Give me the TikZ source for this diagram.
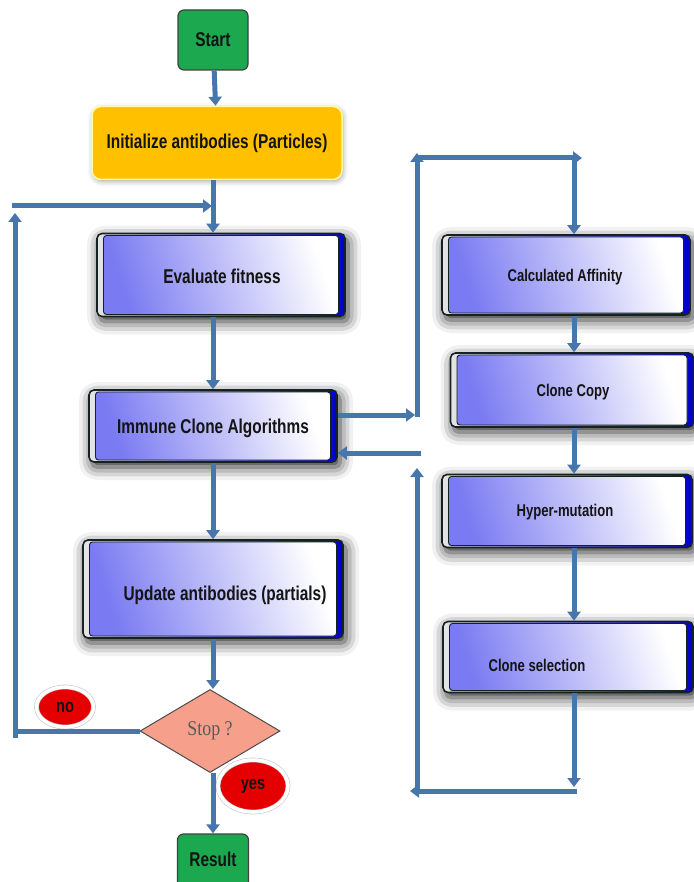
\documentclass[tikz,border=0pt]{standalone}
\usepackage{fontspec}
\setmainfont{Liberation Sans}
\newfontfamily\narrowfont[FakeStretch=0.77]{Liberation Sans}
\newfontfamily\stopfont[FakeStretch=0.85]{Liberation Serif}
\usetikzlibrary{arrows.meta,shapes.geometric,shadows.blur}

\definecolor{flowblue}{RGB}{70,118,172}
\definecolor{boxviolet}{RGB}{122,122,242}
\definecolor{boxedge}{RGB}{22,34,34}
\definecolor{termgreen}{RGB}{28,168,78}
\definecolor{initgold}{RGB}{255,192,0}
\definecolor{stopsalmon}{RGB}{246,160,140}
\definecolor{tagred}{RGB}{228,0,0}

\tikzset{
  flow/.style={draw=flowblue, line width=5pt, -{Triangle[width=13pt,length=9pt]}},
  plainflow/.style={draw=flowblue, line width=5pt},
  bevel/.style={rectangle, rounded corners=5pt, draw=boxedge, line width=1.6pt,
    inner sep=0pt, left color=white!80!gray, right color=blue!80!black,
    blur shadow={shadow xshift=3pt, shadow yshift=-5pt, shadow blur radius=13pt,
      shadow blur extra rounding=4pt, shadow opacity=85}},
  face/.style={rectangle, rounded corners=3pt, draw=boxedge, line width=0.9pt,
    inner sep=0pt, left color=boxviolet, right color=white, shading angle=108},
  boxtext/.style={font=\narrowfont\bfseries\fontsize{20}{24}\selectfont, text=black!92, inner sep=0pt},
  smalltext/.style={font=\narrowfont\bfseries\fontsize{17}{20}\selectfont, text=black!92, inner sep=0pt},
  term/.style={rectangle, rounded corners=6pt, fill=termgreen, draw=black!75, line width=1.2pt,
    inner sep=0pt, font=\narrowfont\bfseries\fontsize{20}{24}\selectfont, text=black!92},
  initbox/.style={rectangle, rounded corners=9pt, fill=initgold, draw=yellow!35!white, line width=1.5pt,
    inner sep=0pt, font=\narrowfont\bfseries\fontsize{20}{24}\selectfont, text=black!92,
    blur shadow={shadow xshift=1pt, shadow yshift=-2pt, shadow blur radius=5pt, shadow opacity=35}},
  decision/.style={diamond, fill=stopsalmon, draw=black!70, line width=1pt, inner sep=0pt,
    minimum width=140pt, minimum height=83pt, font=\stopfont\fontsize{21}{24}\selectfont, text=black!65},
  tag/.style={ellipse, fill=tagred, draw=gray!45, double=white, double distance=3.5pt, line width=0.6pt,
    inner sep=0pt, font=\narrowfont\bfseries\fontsize{19}{22}\selectfont, text=black!92},
}

% bevelled process box: name, centre x, centre y, width, height
\newcommand\flowbox[5]{%
  \node[bevel, minimum width=#4, minimum height=#5] (#1) at (#2,#3) {};
  \node[face, minimum width=#4-13, minimum height=#5-4] (#1-face) at (#1) {};
}

\begin{document}
\begin{tikzpicture}[x=1pt, y=-1pt]
\useasboundingbox (0,0) rectangle (693,882);

% left column
\node[term, minimum width=70pt, minimum height=60pt] (start) at (213,40) {Start};
\node[initbox, minimum width=250pt, minimum height=73pt] (init) at (217,143) {Initialize antibodies (Particles)};

\flowbox{eval}{221}{275}{248}{83}
\node[boxtext] (eval-text) at (222,276) {Evaluate fitness};

\flowbox{imm}{213}{426}{248}{72}
\node[boxtext] (imm-text) at (213,428) {Immune Clone Algorithms};

\flowbox{upd}{213}{589}{260}{98}
\node[boxtext] (upd-text) at (225,595) {Update antibodies (partials)};

\node[decision] (stop) at (210,731) {Stop ?};

\node[term, minimum width=71pt, minimum height=56pt] (result) at (213,862) {};
\node[font=\narrowfont\bfseries\fontsize{20}{24}\selectfont, text=black!92, inner sep=0pt] (result-text) at (213,859) {Result};

\node[tag, minimum width=57pt, minimum height=40pt] (no) at (65,707) {no};
\node[tag, minimum width=70pt, minimum height=52pt] (yes) at (253,786) {yes};

% right column
\flowbox{calc}{566}{275}{248}{80}
\node[smalltext] (calc-text) at (565,277) {Calculated Affinity};

\flowbox{copy}{572}{390}{243}{74}
\node[smalltext] (copy-text) at (573,392) {Clone Copy};

\flowbox{hyper}{567}{511}{250}{73}
\node[smalltext] (hyper-text) at (565,512) {Hyper-mutation};

\flowbox{sel}{568}{657}{250}{71}
\node[smalltext] (sel-text) at (537,665) {Clone selection};

% junction points of the loops
\coordinate (mainx) at (213,0);
\coordinate (colx) at (574,0);
\coordinate (join) at (212,206);
\coordinate (loopCorner) at (15,738);
\coordinate (loopTop) at (15,213);
\coordinate (loopLeft) at (12,206);
\coordinate (outEnd) at (415,415);
\coordinate (upBot) at (417,417);
\coordinate (upTop) at (417,153);
\coordinate (acrossL) at (415,158);
\coordinate (acrossR) at (582,158);
\coordinate (downTop) at (574,160);
\coordinate (selEnd) at (574,787);
\coordinate (backR) at (577,791);
\coordinate (backL) at (410,791);
\coordinate (riseBot) at (417,789);
\coordinate (riseTop) at (417,468);
\coordinate (retIn) at (421,453);

% main flow
\draw[flow] (start) -- (init);
\draw[flow] (init.south -| mainx) -- (eval.north -| mainx);
\draw[flow] (eval.south -| mainx) -- (imm.north -| mainx);
\draw[flow] (imm.south -| mainx) -- (upd.north -| mainx);
\draw[flow] (upd.south -| mainx) -- (stop.north -| mainx);
\draw[flow] (stop.south -| mainx) -- (result.north -| mainx);

% "no" loop back to the evaluation
\draw[plainflow] (stop.west) -- (stop.west -| loopCorner) -- (loopCorner);
\draw[flow] (loopCorner) -- (loopTop);
\draw[flow] (loopLeft) -- (join);

% excursion into the clone loop
\draw[flow] (imm.east |- outEnd) -- (outEnd);
\draw[flow] (upBot) -- (upTop);
\draw[flow] (acrossL) -- (acrossR);
\draw[flow] (downTop) -- (calc.north -| colx);
\draw[flow] (calc.south -| colx) -- (copy.north -| colx);
\draw[flow] (copy.south -| colx) -- (hyper.north -| colx);
\draw[flow] (hyper.south -| colx) -- (sel.north -| colx);
\draw[flow] (sel.south -| colx) -- (selEnd);
\draw[flow] (backR) -- (backL);
\draw[flow] (riseBot) -- (riseTop);
\draw[flow] (retIn) -- (imm.east |- retIn);
\end{tikzpicture}
\end{document}
